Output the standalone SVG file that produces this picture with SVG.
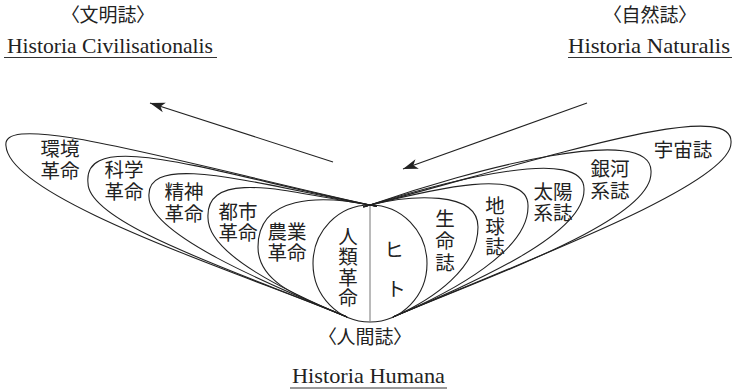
<svg xmlns="http://www.w3.org/2000/svg" width="733" height="392" viewBox="0 0 733 392">
<style>
.p{fill:none;stroke:#222;stroke-width:1.1}
.j{font-family:"Noto Sans CJK JP","Noto Sans CJK SC",sans-serif;font-size:19.5px;fill:#222;text-anchor:middle}
.v{writing-mode:vertical-rl;text-orientation:upright}
.h{font-family:"Noto Sans CJK JP","Noto Sans CJK SC",sans-serif;font-size:19px;fill:#222;text-anchor:middle;font-feature-settings:"palt"}
.l{font-family:"Liberation Serif",serif;font-size:22px;fill:#222}
.u{stroke:#333;stroke-width:1}
.a{stroke:#222;stroke-width:1.1;fill:none}
</style>
<defs>
<marker id="ah" markerUnits="userSpaceOnUse" markerWidth="16" markerHeight="12" refX="15" refY="6" orient="auto"><path d="M0,1 L15,6 L0,11 L4,6 Z" fill="#222"/></marker>
</defs>
<rect width="733" height="392" fill="#fff"/>
<g id="titles">
<g id="title-civ"><text class="h" x="108" y="22">〈文明誌〉</text><text class="l" x="7" y="53" textLength="206" lengthAdjust="spacingAndGlyphs">Historia Civilisationalis</text><line class="u" x1="4" y1="57.5" x2="217" y2="57.5"/></g>
<g id="title-nat"><text class="h" x="650" y="22">〈自然誌〉</text><text class="l" x="568" y="53" textLength="162" lengthAdjust="spacingAndGlyphs">Historia Naturalis</text><line class="u" x1="568" y1="57.5" x2="732" y2="57.5"/></g>
<g id="title-hum"><text class="h" x="365" y="344">〈人間誌〉</text><text class="l" x="292" y="383" textLength="153" lengthAdjust="spacingAndGlyphs">Historia Humana</text><line class="u" x1="290" y1="388" x2="447" y2="388"/></g>
</g>
<g id="connectors">
<path class="a" d="M333,162 L150,103" marker-end="url(#ah)"/>
<path class="a" d="M587,103 L403,169" marker-end="url(#ah)"/>
</g>
<g id="kankyo"><path class="p" d="M376.8,206.5 L370,205 C170,160 0,110 6,146 C10,200 250,276 347,317"/><text class="j"><tspan x="60" y="155.5">環境</tspan><tspan x="60" y="177.5">革命</tspan></text></g>
<g id="kagaku"><path class="p" d="M376.9,206.4 L370,205 C220,175 82,125 88,183 C88,225 250,276 347,317"/><text class="j"><tspan x="124" y="177">科学</tspan><tspan x="124" y="199">革命</tspan></text></g>
<g id="seishin"><path class="p" d="M376.9,206.3 L370,205 C260,185 145,150 149,197 C149,235 273,286 347,317"/><text class="j"><tspan x="184" y="198.5">精神</tspan><tspan x="184" y="220.5">革命</tspan></text></g>
<g id="toshi"><path class="p" d="M376.9,206 L370,205 C300,195 205,165 208,218 C208,255 290,293 347,317"/><text class="j"><tspan x="238" y="218.5">都市</tspan><tspan x="238" y="239.5">革命</tspan></text></g>
<g id="nogyo"><path class="p" d="M376.9,206.4 L370,205 C320,195 258,195 258,247 C258,285 306,299 347,317"/><text class="j"><tspan x="287" y="238.5">農業</tspan><tspan x="287" y="259.5">革命</tspan></text></g>
<g id="jinrui"><path class="p" d="M370,205 A57,58.5 0 0 0 370,322"/><text class="j v" x="348" y="267.5" letter-spacing="1">人類革命</text></g>
<g id="hito"><path class="p" d="M370,205 A57,58.5 0 0 1 370,322"/><text class="j" x="394" y="256.5">ヒ</text><text class="j" x="396" y="295.5">ト</text></g>
<g id="divider"><path d="M370,205 V322" stroke="#777" stroke-width="1" fill="none"/></g>
<g id="seimei"><path class="p" d="M363.2,206.7 L370,205 C410,195 478,190 478,227 C478,268 434,299 393,317"/><text class="j v" x="445" y="242" letter-spacing="2.5">生命誌</text></g>
<g id="chikyu"><path class="p" d="M363.2,206.7 L370,205 C430,190 530,165 528,207 C528,250 455,291 393,317"/><text class="j v" x="495" y="227" letter-spacing="1">地球誌</text></g>
<g id="taiyo"><path class="p" d="M363.3,207.1 L370,205 C450,180 586,145 584,190 C584,235 475,282 393,317"/><text class="j"><tspan x="553" y="198.5">太陽</tspan><tspan x="553" y="219.5">系誌</tspan></text></g>
<g id="ginga"><path class="p" d="M363.4,207.3 L370,205 C470,170 655,120 651,173 C651,220 495,274 393,317"/><text class="j"><tspan x="610" y="176">銀河</tspan><tspan x="610" y="198">系誌</tspan></text></g>
<g id="uchu"><path class="p" d="M363.2,206.8 L370,205 C540,160 735,95 731,143 C731,185 520,263 393,317"/><text class="j" x="683" y="156.5">宇宙誌</text></g>
</svg>
